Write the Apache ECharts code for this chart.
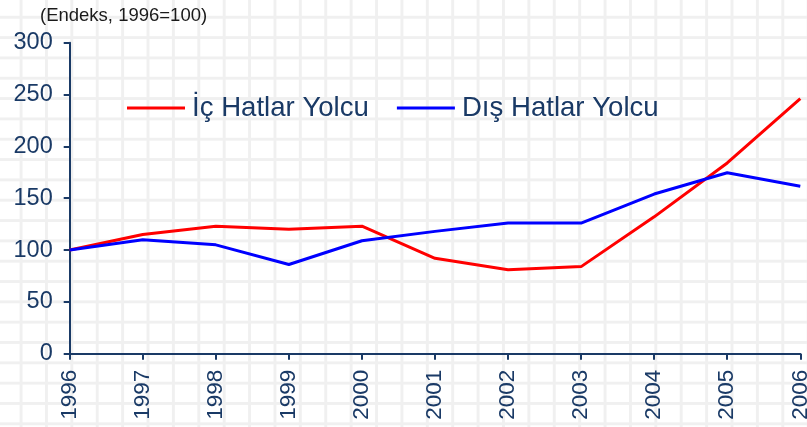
<!DOCTYPE html>
<html>
<head>
<meta charset="utf-8">
<script src="https://cdn.jsdelivr.net/npm/echarts@6/dist/echarts.min.js"></script>
<style>
  html, body { margin: 0; padding: 0; background: #ffffff; }
  #chart {
    width: 807px; height: 427px;
    background-color: #ffffff;
    background-image:
      linear-gradient(to right, #f0f0f0 3px, transparent 3px),
      linear-gradient(to bottom, #f0f0f0 3px, transparent 3px);
    background-size: 25.4px 20.34px;
    background-position: 19.6px 15.8px;
  }
</style>
</head>
<body>
<div id="chart"></div>
<script>
const titleText = '(Endeks, 1996=100)';
const years = ['1996','1997','1998','1999','2000','2001','2002','2003','2004','2005','2006'];
const icHatlarName = 'İç Hatlar Yolcu';
const disHatlarName = 'Dış Hatlar Yolcu';
const icHatlar = [100, 115, 123, 120, 123, 92, 81, 84, 132, 184, 246];
const disHatlar = [100, 110, 105, 86, 109, 118, 126, 126, 154, 174.5, 161.5];
const yTicks = { min: 0, max: 300, interval: 50 };

const navy = '#1a3a66';
const font = 'Liberation Sans, Arial, sans-serif';

const chart = echarts.init(document.getElementById('chart'), null, { renderer: 'canvas' });
chart.setOption({
  backgroundColor: 'transparent',
  animation: false,
  title: {
    text: titleText,
    left: 40, top: 6, padding: 0,
    textStyle: { fontFamily: font, fontSize: 18.5, fontWeight: 'normal', color: '#1a1a1a' }
  },
  legend: {
    left: 127, top: 93, padding: 0,
    itemGap: 28, itemWidth: 58, itemHeight: 3,
    icon: 'rect',
    data: [icHatlarName, disHatlarName],
    textStyle: { fontFamily: font, fontSize: 27.6, color: navy, lineHeight: 30, padding: [0, 0, 0, 2] }
  },
  grid: { left: 69.7, right: 6.7, top: 42.7, bottom: 73.3, containLabel: false, outerBoundsMode: 'none' },
  xAxis: {
    type: 'category',
    data: years,
    boundaryGap: false,
    axisLine: { lineStyle: { color: navy, width: 2 } },
    axisTick: { show: true, length: 6, lineStyle: { color: navy, width: 2 } },
    axisLabel: { rotate: 90, margin: 16, fontFamily: font, fontSize: 22.5, color: navy },
    splitLine: { show: false }
  },
  yAxis: {
    type: 'value',
    min: yTicks.min, max: yTicks.max, interval: yTicks.interval,
    axisLine: { show: true, lineStyle: { color: navy, width: 2 } },
    axisTick: { show: true, length: 6, lineStyle: { color: navy, width: 2 } },
    axisLabel: { margin: 17, fontFamily: font, fontSize: 23.5, color: navy },
    splitLine: { show: false }
  },
  series: [
    {
      name: icHatlarName, type: 'line', data: icHatlar,
      symbol: 'none', lineStyle: { color: '#ff0000', width: 3 }, itemStyle: { color: '#ff0000' }
    },
    {
      name: disHatlarName, type: 'line', data: disHatlar,
      symbol: 'none', lineStyle: { color: '#0000ff', width: 3 }, itemStyle: { color: '#0000ff' }
    }
  ]
});
</script>
</body>
</html>
